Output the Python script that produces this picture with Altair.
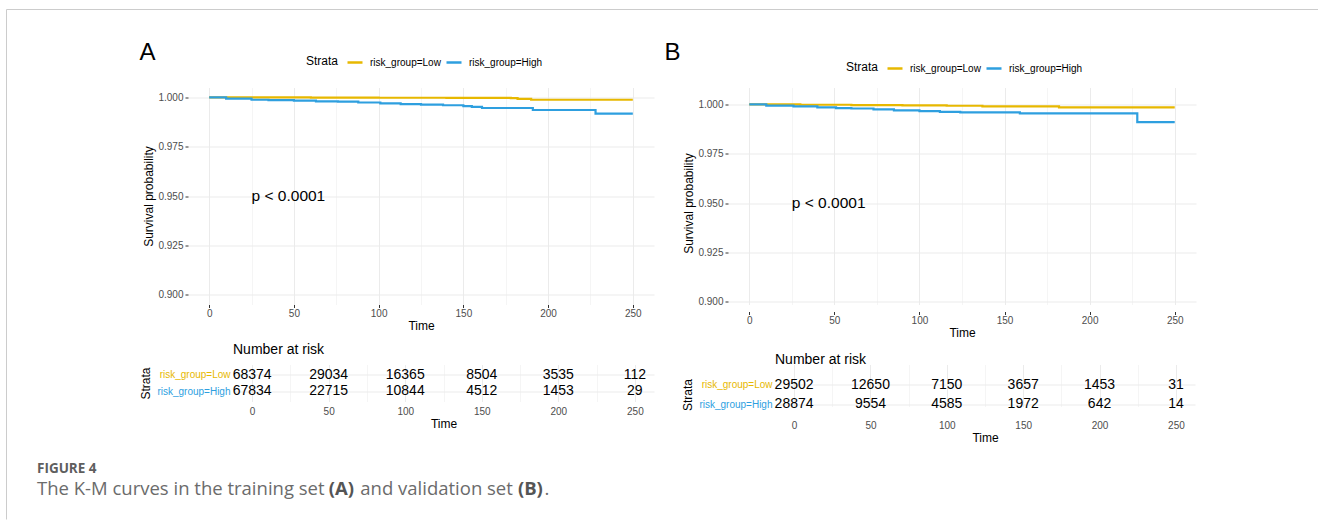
import altair as alt
import pandas as pd

# ---------------- data ----------------
strata_levels = ["risk_group=Low", "risk_group=High"]
palette = ["#E7B800", "#2E9FDF"]

# Panel A (training set) survival curves
a_low_time = [0, 30, 60, 100, 140, 178, 182, 190, 250]
a_low_surv = [1.0, 0.99995, 0.9999, 0.9998, 0.99975, 0.9996, 0.9992, 0.9988, 0.9988]
a_high_time = [0, 10, 25, 35, 50, 63, 76, 88, 101, 113, 125, 138, 150, 155, 161, 191, 228, 250]
a_high_surv = [1.0, 0.9994, 0.9988, 0.9986, 0.9983, 0.9980, 0.9978, 0.9974, 0.9970, 0.9966,
               0.9963, 0.9960, 0.9956, 0.9952, 0.9946, 0.9936, 0.9918, 0.9918]

# Panel B (validation set) survival curves
b_low_time = [0, 30, 60, 90, 116, 137, 182, 250]
b_low_surv = [1.0, 0.9998, 0.9996, 0.9995, 0.9993, 0.9990, 0.9985, 0.9985]
b_high_time = [0, 10, 26, 40, 51, 60, 73, 85, 100, 112, 124, 159, 228, 250]
b_high_surv = [1.0, 0.9994, 0.9990, 0.9985, 0.9981, 0.9979, 0.9975, 0.9970, 0.9966, 0.9962,
               0.9959, 0.9954, 0.9910, 0.9910]

# Number at risk tables
risk_times = [0, 50, 100, 150, 200, 250]
a_risk_low = [68374, 29034, 16365, 8504, 3535, 112]
a_risk_high = [67834, 22715, 10844, 4512, 1453, 29]
b_risk_low = [29502, 12650, 7150, 3657, 1453, 31]
b_risk_high = [28874, 9554, 4585, 1972, 642, 14]

# axis breaks (major + minor grid)
x_breaks = [0, 25, 50, 75, 100, 125, 150, 175, 200, 225, 250]
y_breaks = [0.900, 0.9125, 0.925, 0.9375, 0.950, 0.9625, 0.975, 0.9875, 1.000]
x_domain = [-12.5, 262.5]
y_domain = [0.895, 1.005]

pval_text = "p < 0.0001"
pval_time = 25
pval_surv = 0.95

FONT = "Liberation Sans"
GRID = "#EBEBEB"
TICKLAB = "#4D4D4D"

x_minor = "datum.value % 50 != 0"
y_minor = "abs(datum.value * 40 - round(datum.value * 40)) > 0.001"


def one_row():
    return pd.DataFrame({"k": [0]})


def km_chart(low_t, low_s, high_t, high_s, width, height, yrange, panel_label,
             label_xy, legend_xy, extra=None):
    df = pd.concat([
        pd.DataFrame({"time": low_t, "surv": low_s, "strata": strata_levels[0]}),
        pd.DataFrame({"time": high_t, "surv": high_s, "strata": strata_levels[1]}),
    ], ignore_index=True)

    yscale = dict(domain=y_domain, nice=False, zero=False)
    if yrange is not None:
        yscale["range"] = yrange

    x_enc = alt.X("time:Q",
                  scale=alt.Scale(domain=x_domain, nice=False, zero=False),
                  axis=alt.Axis(values=x_breaks,
                                labelExpr=f"{x_minor} ? '' : datum.label",
                                tickColor={"condition": {"test": x_minor, "value": "transparent"},
                                           "value": "#333333"},
                                gridWidth={"condition": {"test": x_minor, "value": 0.5},
                                           "value": 1},
                                gridColor=GRID, domain=False, tickSize=3,
                                labelFontSize=10, labelColor=TICKLAB, labelPadding=1,
                                title="Time", titleFontSize=12, titleFontWeight="normal",
                                titleColor="black", titlePadding=2))
    y_enc = alt.Y("surv:Q",
                  scale=alt.Scale(**yscale),
                  axis=alt.Axis(values=y_breaks,
                                labelExpr=f"{y_minor} ? '' : format(datum.value, '.3f')",
                                tickColor={"condition": {"test": y_minor, "value": "transparent"},
                                           "value": "#333333"},
                                gridWidth={"condition": {"test": y_minor, "value": 0.5},
                                           "value": 1},
                                gridColor=GRID, domain=False, tickSize=3,
                                labelFontSize=10, labelColor=TICKLAB, labelPadding=2,
                                title="Survival probability", titleFontSize=12,
                                titleFontWeight="normal", titleColor="black", titlePadding=2))

    color = alt.Color("strata:N",
                      scale=alt.Scale(domain=strata_levels, range=palette),
                      legend=alt.Legend(orient="none", legendX=legend_xy[0], legendY=legend_xy[1],
                                        direction="horizontal", title="Strata", titleOrient="left",
                                        titleFontSize=12, titleFontWeight="normal", titleColor="black",
                                        labelFontSize=10, labelColor="black",
                                        symbolType="stroke", symbolSize=225, symbolStrokeWidth=2.5,
                                        labelOffset=6, columnPadding=0, titlePadding=7, padding=0))

    lines = alt.Chart(df).mark_line(interpolate="step-after", strokeWidth=2.2).encode(
        x=x_enc, y=y_enc, color=color)

    pval = alt.Chart(pd.DataFrame({"time": [pval_time], "surv": [pval_surv], "lab": [pval_text]})
                     ).mark_text(align="left", baseline="middle", fontSize=15.5, color="black"
                                 ).encode(x="time:Q", y="surv:Q", text="lab:N")

    lab = alt.Chart(one_row()).mark_text(align="center", baseline="middle", fontSize=24,
                                         color="black").encode(
        x=alt.value(label_xy[0]), y=alt.value(label_xy[1]), text=alt.value(panel_label))

    layers = [lines, pval, lab] + (extra or [])
    return alt.layer(*layers).properties(width=width, height=height)


def risk_table(low_n, high_n, width, height, xrange, yrange, title_y):
    df = pd.concat([
        pd.DataFrame({"time": risk_times, "n": low_n, "strata": strata_levels[0]}),
        pd.DataFrame({"time": risk_times, "n": high_n, "strata": strata_levels[1]}),
    ], ignore_index=True)

    x_enc = alt.X("time:Q",
                  scale=alt.Scale(domain=x_domain, range=xrange, nice=False, zero=False),
                  axis=alt.Axis(values=x_breaks,
                                labelExpr=f"{x_minor} ? '' : datum.label",
                                ticks=False, domain=False,
                                gridWidth={"condition": {"test": x_minor, "value": 0.5},
                                           "value": 1},
                                gridColor=GRID, labelFontSize=10, labelColor=TICKLAB,
                                labelPadding=5, title="Time", titleFontSize=12,
                                titleFontWeight="normal", titleColor="black", titlePadding=2))
    yscale = dict(type="point", domain=strata_levels, padding=0.6)
    if yrange is not None:
        yscale["range"] = yrange
    y_enc = alt.Y("strata:N",
                  scale=alt.Scale(**yscale),
                  axis=alt.Axis(title="Strata", ticks=False, domain=False, grid=True,
                                gridColor=GRID, gridWidth=1,
                                labelColor={"condition": {"test": f"datum.value == '{strata_levels[0]}'",
                                                          "value": palette[0]},
                                            "value": palette[1]},
                                labelFontSize=10, labelPadding=3, offset=-xrange[0],
                                titleFontSize=12, titleFontWeight="normal", titleColor="black",
                                titlePadding=4))

    nums = alt.Chart(df).mark_text(fontSize=14, color="black", baseline="middle").encode(
        x=x_enc, y=y_enc, text=alt.Text("n:Q", format="d"))

    ttl = alt.Chart(one_row()).mark_text(align="left", baseline="middle", fontSize=14,
                                         color="black").encode(
        x=alt.value(xrange[0]), y=alt.value(title_y), text=alt.value("Number at risk"))

    return alt.layer(nums, ttl).properties(width=width, height=height)


# frame and caption (positioned relative to panel A plot origin)
frame_color = "#CCCCCC"
frame_top = alt.Chart(one_row()).mark_rule(color=frame_color, strokeWidth=1).encode(
    x=alt.value(-181.5), x2=alt.value(1130), y=alt.value(-78))
frame_left = alt.Chart(one_row()).mark_rule(color=frame_color, strokeWidth=1).encode(
    x=alt.value(-181.5), y=alt.value(-78), y2=alt.value(432))

cap_color = "#6B6B6B"
cap_bold = "#555555"
cap_font = "Open Sans"


def cap(text, x, y, size, weight="normal", color=cap_color):
    return alt.Chart(one_row()).mark_text(align="left", baseline="middle", font=cap_font,
                                          fontSize=size, fontWeight=weight, color=color).encode(
        x=alt.value(x), y=alt.value(y), text=alt.value(text))


caption = [
    cap("FIGURE 4", -151, 381, 13.5, "bold", "#5E5E5E"),
    cap("The K-M curves in the training set", -151, 401, 18.5),
    cap("(A)", 140.7, 401, 18.5, "bold", cap_bold),
    cap("and validation set", 172.3, 401, 18.5),
    cap("(B)", 329.9, 401, 18.5, "bold", cap_bold),
    cap(".", 356.4, 401, 18.5),
]

plotA = km_chart(a_low_time, a_low_surv, a_high_time, a_high_surv, 466, 217, None, "A",
                 (-40.5, -35), (118, -34), [frame_top, frame_left] + caption)
plotB = km_chart(b_low_time, b_low_surv, b_high_time, b_high_surv, 468, 224, [224, 7], "B",
                 (-55.5, -35), (118, -28))

tableA = risk_table(a_risk_low, a_risk_high, 466, 37, [45, 466], None, -15)
tableB = risk_table(b_risk_low, b_risk_high, 468, 51, [47, 467], [9, 51], -5)

chart = alt.concat(plotA, plotB, tableA, tableB, columns=2,
                   spacing={"row": 53, "column": 74}, bounds="flush").resolve_scale(
    color="independent").resolve_legend(color="independent").properties(
    padding={"left": 6, "top": 8.5, "right": 0, "bottom": 0},
    background="white",
).configure_view(stroke=None).configure_axis(
    labelFont=FONT, titleFont=FONT
).configure_legend(
    labelFont=FONT, titleFont=FONT
).configure_text(font=FONT)

chart.save("out.html", embed_options={"renderer": "svg", "actions": False})
